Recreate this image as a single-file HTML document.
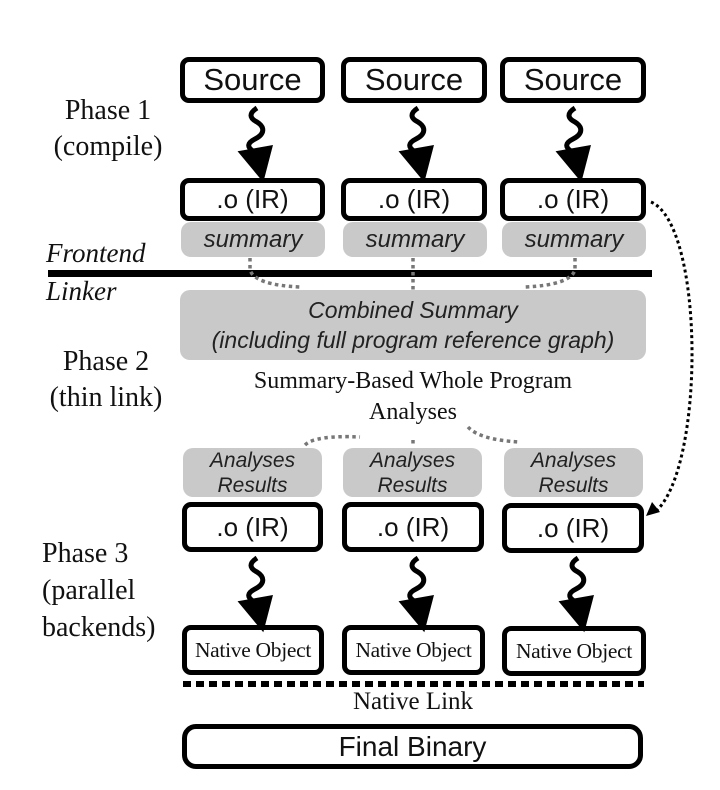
<!DOCTYPE html>
<html><head><meta charset="utf-8"><style>
html,body{margin:0;padding:0;background:#fff;}
body{width:720px;height:790px;position:relative;overflow:hidden;}
.b{position:absolute;box-sizing:border-box;border:5px solid #000;border-radius:9px;background:#fff;display:flex;align-items:center;justify-content:center;font-family:"Liberation Sans",sans-serif;color:#111;}
.g{position:absolute;box-sizing:border-box;background:#c9c9c9;border-radius:10px;display:flex;align-items:center;justify-content:center;text-align:center;font-family:"Liberation Sans",sans-serif;font-style:italic;color:#222;}
.t{position:absolute;font-family:"Liberation Serif",serif;color:#111;text-align:center;white-space:nowrap;}
.nat{font-family:"Liberation Serif",serif;font-size:21.5px;letter-spacing:-0.3px;white-space:nowrap;}
</style></head><body>
<!-- Left labels -->
<div class="t" style="left:38px;top:93px;width:140px;font-size:28px;line-height:36px;">Phase 1<br>(compile)</div>
<div class="t" style="left:46px;top:238px;font-size:27px;font-style:italic;">Frontend</div>
<div class="t" style="left:46px;top:276px;font-size:27px;font-style:italic;">Linker</div>
<div class="t" style="left:36px;top:344px;width:140px;font-size:28px;line-height:36px;">Phase 2<br>(thin link)</div>
<div class="t" style="left:42px;top:535px;width:140px;font-size:28px;line-height:37px;text-align:left;">Phase 3<br>(parallel<br>backends)</div>

<!-- Row 1 Source -->
<div class="b" style="left:180px;top:57px;width:145px;height:46px;font-size:31px;">Source</div>
<div class="b" style="left:341px;top:57px;width:146px;height:46px;font-size:31px;">Source</div>
<div class="b" style="left:500px;top:57px;width:146px;height:46px;font-size:31px;">Source</div>
<!-- .o IR row1 -->
<div class="b" style="left:180px;top:178px;width:145px;height:43px;font-size:26px;">.o (IR)</div>
<div class="b" style="left:341px;top:178px;width:146px;height:43px;font-size:26px;">.o (IR)</div>
<div class="b" style="left:500px;top:178px;width:146px;height:43px;font-size:26px;">.o (IR)</div>
<!-- summary -->
<div class="g" style="left:181px;top:222px;width:144px;height:35px;font-size:24px;">summary</div>
<div class="g" style="left:343px;top:222px;width:144px;height:35px;font-size:24px;">summary</div>
<div class="g" style="left:502px;top:222px;width:144px;height:35px;font-size:24px;">summary</div>

<!-- Combined summary -->
<div class="g" style="left:180px;top:290px;width:466px;height:70px;font-size:23px;line-height:30px;">Combined Summary<br>(including full program reference graph)</div>
<div class="t" style="left:180px;top:366px;width:466px;font-size:24px;line-height:31px;">Summary-Based Whole Program<br>Analyses</div>

<!-- Analyses results -->
<div class="g" style="left:183px;top:448px;width:139px;height:49px;font-size:21px;line-height:25px;">Analyses<br>Results</div>
<div class="g" style="left:343px;top:448px;width:139px;height:49px;font-size:21px;line-height:25px;">Analyses<br>Results</div>
<div class="g" style="left:504px;top:448px;width:139px;height:49px;font-size:21px;line-height:25px;">Analyses<br>Results</div>
<!-- .o IR row2 -->
<div class="b" style="left:182px;top:502px;width:141px;height:50px;font-size:26px;">.o (IR)</div>
<div class="b" style="left:342px;top:502px;width:142px;height:50px;font-size:26px;">.o (IR)</div>
<div class="b" style="left:502px;top:503px;width:142px;height:50px;font-size:26px;">.o (IR)</div>
<!-- Native -->
<div class="b nat" style="left:182px;top:625px;width:142px;height:50px;">Native Object</div>
<div class="b nat" style="left:342px;top:625px;width:143px;height:50px;">Native Object</div>
<div class="b nat" style="left:502px;top:626px;width:144px;height:50px;">Native Object</div>

<div class="t" style="left:180px;top:688px;width:466px;font-size:25px;">Native Link</div>
<div class="b" style="left:182px;top:724px;width:461px;height:45px;border-radius:14px;font-size:28px;">Final Binary</div>

<svg width="720" height="790" style="position:absolute;left:0;top:0;" xmlns="http://www.w3.org/2000/svg">
<defs>
<g id="sq">
<path d="M0,0 c-8,5 -8,10 0,14 c8,5 8,12 -2,17 c-8,4 -8,8 -2,12" fill="none" stroke="#000" stroke-width="5"/>
<polygon points="-18,40 18,40 2,75" fill="#000" transform="rotate(-10 0 50)"/>
</g>
</defs>
<use href="#sq" x="257" y="108"/>
<use href="#sq" x="418" y="108"/>
<use href="#sq" x="575" y="108"/>
<use href="#sq" x="257" y="558"/>
<use href="#sq" x="418" y="558"/>
<use href="#sq" x="578" y="558"/>
<rect x="48" y="270" width="604" height="7" fill="#000"/>
<g fill="none" stroke="#777" stroke-width="3.5" stroke-dasharray="3.5,3.5">
<path d="M250,258 L250,270 Q255,285 300,287"/>
<path d="M413,258 L413,290"/>
<path d="M575,258 L575,270 Q570,285 525,287"/>
<path d="M305,445 Q315,435 360,437"/>
<path d="M413,440 L413,447"/>
<path d="M468,427 Q480,440 520,442"/>
</g>
<path d="M651,202 C705,225 705,470 655,512" fill="none" stroke="#000" stroke-width="3" stroke-dasharray="3,3"/>
<polygon points="646,516 652,502 660,512" fill="#000"/>
<line x1="183" y1="684" x2="644" y2="684" stroke="#000" stroke-width="6" stroke-dasharray="8,5"/>
</svg>
</body></html>
